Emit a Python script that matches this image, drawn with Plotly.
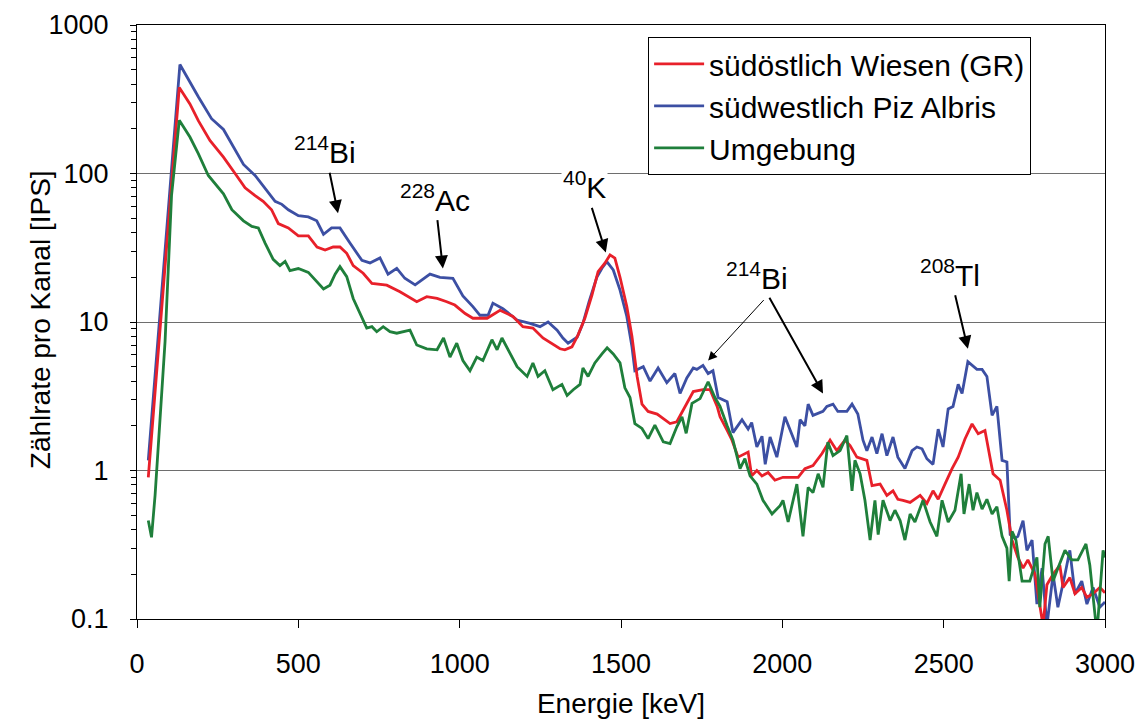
import math
import plotly.graph_objects as go

# ---------------- data ----------------
energy_red = [35, 131, 164, 190, 226, 268, 304, 335, 366, 391, 417, 438, 469, 500, 531, 558, 583, 608,
              629, 650, 670, 701, 728, 774, 815, 867, 898, 930, 960, 985, 1017, 1041, 1085, 1125, 1165,
              1196, 1227, 1258, 1311, 1326, 1348, 1367, 1388, 1410, 1429, 1450, 1466, 1481, 1497, 1518,
              1534, 1550, 1565, 1584, 1612, 1631, 1652, 1673, 1692, 1724, 1754, 1776, 1798, 1807, 1829,
              1844, 1863, 1884, 1894, 1905, 1921, 1937, 1956, 1977, 2002, 2024, 2049, 2070, 2095, 2123,
              2148, 2169, 2194, 2210, 2231, 2262, 2278, 2303, 2324, 2343, 2358, 2374, 2396, 2427, 2448,
              2467, 2483, 2504, 2526, 2545, 2566, 2588, 2607, 2628, 2653, 2675, 2696, 2712, 2730, 2746,
              2761, 2783, 2798, 2808, 2820, 2839, 2860, 2870, 2891, 2907, 2928, 2944, 2963, 2984, 3000]
counts_red = [0.90, 380, 294, 227, 167, 129, 100, 80, 71, 65, 57, 46, 43, 38, 38, 32, 30.5, 32,
              32, 29, 24, 21.3, 18.2, 17.7, 16, 13.7, 14.8, 14.4, 13.7, 13, 11.4, 10.6, 10.6, 12, 10.9,
              9.3, 9.1, 7.8, 6.6, 6.5, 6.8, 8.2, 10.6, 15.2, 21.8, 24.9, 28.3, 26.9, 20, 12.7,
              8, 4.3, 2.8, 2.5, 2.4, 2.24, 2.07, 2.13, 2.55, 3.4, 3.5, 3.5, 2.7, 2.3, 1.86,
              1.6, 1.23, 1.3, 1.33, 0.92, 1.0, 0.92, 0.97, 0.86, 0.90, 0.90, 0.90, 1.03, 1.08, 1.3,
              1.6, 1.36, 1.6, 1.47, 1.23, 1.17, 0.79, 0.81, 0.68, 0.73, 0.64, 0.63, 0.61, 0.68, 0.60,
              0.73, 0.64, 0.81, 1.03, 1.23, 1.63, 2.06, 1.77, 1.86, 0.95, 0.86, 0.54, 0.34, 0.26, 0.22,
              0.25, 0.20, 0.12, 0.09, 0.17, 0.20, 0.23, 0.163, 0.19, 0.148, 0.163, 0.14, 0.148, 0.163, 0.15]

energy_blue = [35, 133, 190, 231, 268, 304, 330, 366, 397, 428, 449, 469, 500, 531, 557, 578, 603, 629,
               660, 697, 722, 753, 778, 805, 830, 862, 908, 939, 979, 1010, 1041, 1063, 1088, 1103, 1134,
               1178, 1218, 1249, 1274, 1302, 1320, 1336, 1364, 1382, 1401, 1425, 1441, 1456, 1476, 1497,
               1518, 1534, 1543, 1569, 1590, 1615, 1642, 1667, 1683, 1704, 1724, 1735, 1754, 1770, 1785,
               1801, 1829, 1847, 1875, 1894, 1905, 1921, 1937, 1947, 1962, 1983, 2008, 2024, 2045, 2055,
               2070, 2080, 2095, 2126, 2138, 2157, 2172, 2200, 2216, 2234, 2250, 2262, 2278, 2293, 2309,
               2324, 2343, 2358, 2380, 2402, 2417, 2433, 2448, 2467, 2483, 2498, 2514, 2529, 2545, 2557,
               2575, 2603, 2619, 2634, 2650, 2665, 2681, 2696, 2706, 2721, 2730, 2746, 2758, 2774, 2789,
               2805, 2820, 2839, 2854, 2876, 2891, 2907, 2928, 2944, 2963, 2984, 3000]
counts_blue = [1.17, 542, 329, 234, 198, 145, 115, 97, 80, 65, 62, 57, 52, 51, 48, 39, 43, 43,
               34, 26, 25, 27, 21, 23, 19.7, 17.8, 21, 20, 19.7, 15, 12.7, 11.1, 11.1, 13.4, 12.3,
               10.3, 9.8, 9.3, 10, 8.8, 7.8, 7.2, 7.9, 9.8, 13.7, 20, 23, 25.5, 22.4, 16.4,
               10.9, 6.8, 4.7, 5.0, 4.0, 4.9, 3.9, 4.5, 3.3, 4.2, 4.9, 4.8, 5.1, 4.5, 4.7,
               3.1, 2.9, 1.8, 2.2, 1.9, 2.1, 1.44, 1.7, 1.1, 1.68, 1.23, 2.3, 1.86, 1.44, 2.2,
               2.0, 2.8, 2.35, 2.5, 2.7, 2.8, 2.5, 2.5, 2.8, 2.4, 1.6, 1.36, 1.68, 1.3, 1.77,
               1.26, 1.68, 1.23, 1.03, 1.36, 1.44, 1.4, 1.2, 1.1, 1.9, 1.44, 2.6, 2.7, 3.8, 3.3,
               5.4, 4.8, 4.8, 4.3, 2.35, 2.7, 1.17, 1.14, 0.37, 0.35, 0.36, 0.46, 0.29, 0.34, 0.126,
               0.22, 0.09, 0.20, 0.12, 0.20, 0.29, 0.148, 0.18, 0.126, 0.163, 0.12, 0.13]

energy_green = [35, 45, 56, 87, 107, 131, 164, 190, 221, 268, 294, 330, 356, 376, 397, 422, 443, 459,
                474, 500, 531, 557, 578, 598, 614, 629, 650, 670, 691, 712, 728, 743, 763, 784, 805,
                846, 867, 898, 930, 950, 970, 991, 1010, 1032, 1053, 1072, 1100, 1116, 1131, 1150,
                1178, 1209, 1227, 1243, 1264, 1289, 1317, 1333, 1352, 1373, 1382, 1398, 1419, 1441,
                1457, 1476, 1497, 1512, 1528, 1543, 1565, 1584, 1605, 1631, 1652, 1673, 1689, 1702,
                1720, 1745, 1770, 1791, 1807, 1829, 1847, 1869, 1884, 1900, 1921, 1940, 1968, 1993,
                2002, 2018, 2033, 2045, 2064, 2080, 2095, 2111, 2126, 2141, 2157, 2179, 2200, 2216,
                2225, 2241, 2256, 2272, 2287, 2297, 2312, 2334, 2349, 2365, 2380, 2396, 2411, 2436,
                2458, 2479, 2495, 2514, 2535, 2554, 2563, 2579, 2591, 2603, 2619, 2634, 2650, 2665,
                2681, 2696, 2703, 2712, 2724, 2743, 2767, 2789, 2798, 2814, 2824, 2839, 2854, 2876,
                2897, 2916, 2941, 2953, 2975, 2994, 3000]
counts_green = [0.46, 0.355, 0.68, 7.4, 71, 228, 176, 136, 97, 73, 57, 48, 44, 43, 34, 26.4, 24, 25.6,
                22.2, 22.9, 21.6, 18.7, 16.7, 17.7, 21, 23.6, 20.2, 14.4, 11.4, 9.1, 9.3, 8.6, 9.3, 8.6, 8.4,
                8.8, 7.0, 6.6, 6.5, 7.8, 5.8, 7.2, 5.5, 4.7, 5.8, 5.5, 7.6, 6.5, 7.8, 6.5,
                5.0, 4.3, 5.3, 4.3, 4.7, 3.5, 3.8, 3.2, 3.5, 3.8, 4.9, 4.3, 5.3, 6.1,
                6.7, 6.1, 5.3, 3.6, 3.1, 2.07, 1.92, 1.64, 2.02, 1.56, 1.52, 1.97, 2.3, 1.78,
                2.83, 3.05, 3.96, 3.1, 2.7, 2.0, 1.6, 1.03, 1.2, 0.92, 0.81, 0.63, 0.51, 0.58,
                0.63, 0.45, 0.64, 0.81, 0.36, 0.77, 0.71, 0.95, 0.77, 1.55, 1.26, 1.36, 1.72, 0.73,
                1.17, 0.95, 0.63, 0.34, 0.63, 0.37, 0.63, 0.46, 0.54, 0.46, 0.34, 0.51, 0.45, 0.63,
                0.45, 0.36, 0.63, 0.45, 0.54, 0.95, 0.51, 0.81, 0.54, 0.71, 0.55, 0.64, 0.51, 0.57,
                0.36, 0.30, 0.18, 0.39, 0.34, 0.18, 0.18, 0.26, 0.12, 0.32, 0.36, 0.18, 0.22, 0.29,
                0.25, 0.25, 0.32, 0.23, 0.08, 0.29, 0.26]

series_names = ["südöstlich Wiesen (GR)", "südwestlich Piz Albris", "Umgebung"]
series_colors = ["#e8202a", "#3c4fa3", "#1f7f3b"]

y_tickvals = [0.1, 1, 10, 100, 1000]
y_ticktext = ["0.1", "1", "10", "100", "1000"]
x_tickvals = [0, 500, 1000, 1500, 2000, 2500, 3000]

# peak labels with their arrow heads (energy, counts)
label_text = ["<sup>214</sup>Bi", "<sup>228</sup>Ac", "<sup>40</sup>K", "<sup>214</sup>Bi", "<sup>208</sup>Tl"]
arrow_x = [623, 948, 1453, 2126, 2575]
arrow_y = [54, 22.9, 29.4, 3.3, 6.6]
# second arrow of the right 214Bi label
extra_arrow_x = [1770]
extra_arrow_y = [5.5]

FONT = "Arial, Liberation Sans, sans-serif"

fig = go.Figure()
for name, col, ex, cy, order in [
    (series_names[1], series_colors[1], energy_blue, counts_blue, 1),
    (series_names[0], series_colors[0], energy_red, counts_red, 0),
    (series_names[2], series_colors[2], energy_green, counts_green, 2),
]:
    fig.add_trace(go.Scatter(x=ex, y=cy, mode="lines", name=name,
                             line=dict(color=col, width=2.8),
                             legendgroup=name, legendrank=order + 1))

# empty helper trace so the overlaid minor-tick axis is drawn
fig.add_trace(go.Scatter(x=[None], y=[None], yaxis="y2", showlegend=False, hoverinfo="skip"))

annotations = []
# text offsets (pixels) of each label from its arrow head
label_off = [(-13, -63), (-8, -71), (-21, -67), (-66, -118), (-18, -76)]
for t, (ox, oy), x, y in zip(label_text, label_off, arrow_x, arrow_y):
    annotations.append(dict(x=x, y=math.log10(y), xref="x", yref="y",
                            text=t, showarrow=True, ax=ox, ay=oy,
                            arrowhead=2, arrowsize=1.3, arrowwidth=2, arrowcolor="black",
                            standoff=0, startstandoff=2,
                            font=dict(size=30, color="black", family=FONT),
                            bgcolor="white" if "40" in t else "rgba(0,0,0,0)"))
for x, y in zip(extra_arrow_x, extra_arrow_y):
    annotations.append(dict(x=x, y=math.log10(y), xref="x", yref="y", text="",
                            showarrow=True, ax=57, ay=-62, arrowhead=2, arrowsize=1.8,
                            arrowwidth=1, arrowcolor="black", standoff=0, startstandoff=0))

# y-axis title as a rotated text
annotations.append(dict(text="Zählrate pro Kanal [IPS]", xref="paper", yref="paper",
                        x=-0.1002, y=0.503, xanchor="center", yanchor="middle",
                        textangle=-90, showarrow=False,
                        font=dict(size=28, family=FONT, color="black")))

minor_vals = [m * 10.0 ** e for e in range(-1, 3) for m in range(2, 10)]

fig.update_layout(
    width=1137, height=714,
    margin=dict(l=129, r=40, t=17, b=103, autoexpand=False),
    paper_bgcolor="white", plot_bgcolor="white",
    font=dict(family=FONT, size=28, color="black"),
    showlegend=True,
    legend=dict(x=0.528, y=0.98, xanchor="left", yanchor="top",
                bgcolor="white", bordercolor="black", borderwidth=1,
                font=dict(size=30, family=FONT, color="black"),
                tracegroupgap=4, traceorder="normal", itemwidth=50),
    annotations=annotations,
    yaxis2=dict(type="log", range=[-1, 3], overlaying="y", side="left", anchor="x",
                tickmode="array", tickvals=minor_vals, ticks="outside", ticklen=5,
                tickcolor="black", tickwidth=1, showticklabels=False, showgrid=False,
                showline=False, zeroline=False),
)

fig.update_xaxes(range=[0, 3000], tickvals=x_tickvals, ticks="outside", ticklen=8,
                 tickcolor="black", showline=True, linecolor="black", linewidth=1, mirror=True,
                 showgrid=False, zeroline=False, tickfont=dict(size=27),
                 title=dict(text="Energie [keV]", font=dict(size=28), standoff=14),
                 ticklabelstandoff=13)
fig.update_yaxes(selector=dict(overlaying=None), type="log", range=[-1, 3],
                 tickvals=y_tickvals, ticktext=y_ticktext,
                 ticks="outside", ticklen=6, tickcolor="black",
                 showline=True, linecolor="black", linewidth=1, mirror=True,
                 showgrid=True, gridcolor="#6e6e6e", gridwidth=1, zeroline=False,
                 tickfont=dict(size=27),
                 ticklabelstandoff=16)
fig.layout.yaxis2.showgrid = False
fig.layout.yaxis2.showticklabels = False
fig.layout.yaxis2.ticklen = 5
fig.layout.yaxis2.tickvals = minor_vals
fig.layout.yaxis2.ticktext = None

fig.write_html("out.html")
